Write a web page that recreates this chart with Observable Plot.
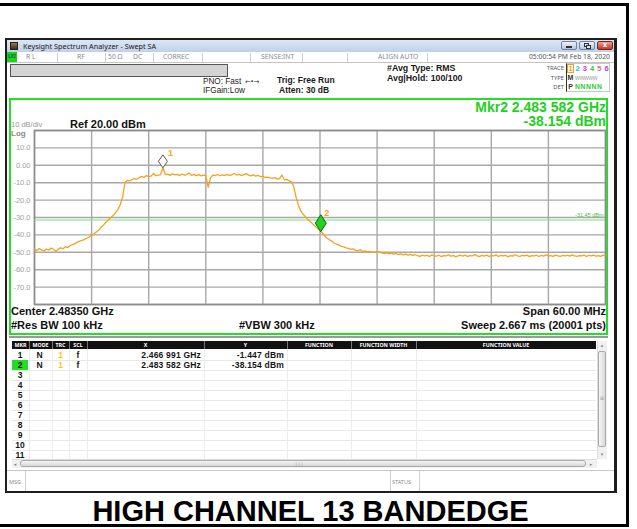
<!DOCTYPE html>
<html><head><meta charset="utf-8">
<script src="https://cdn.jsdelivr.net/npm/d3@7"></script>
<script src="https://cdn.jsdelivr.net/npm/@observablehq/plot@0.6"></script>
<style>
html,body{margin:0;padding:0;background:#fff;}
#root{position:relative;width:637px;height:529px;overflow:hidden;background:#fff;}
</style></head><body><div id="root"></div>
<script>
// ================= DATA =================
const centerGHz = 2.4835;
const spanMHz = 60;
const refLevelDbm = 20;
const displayLineDbm = -31.45;
// trace levels (dBm) at equal steps across the span
const traceLevels = [
 -48.3, -48.9, -47.9, -48.6, -49.2, -48.1, -48.7, -47.6, -48.4, -49.5,
 -48.2, -47.4, -47.9, -46.8, -47.3, -46.1, -45.6, -45.0, -44.2, -43.6,
 -43.2, -42.6, -41.9, -41.2, -40.1, -39.4, -38.3, -37.2, -35.6, -34.3,
 -32.8, -31.4, -30.2, -28.9, -27.4, -25.6, -22.8, -18.5, -10.2, -8.6,
 -8.9, -8.2, -7.6, -8.0, -7.1, -6.4, -7.0, -5.9, -6.5, -6.2,
 -4.6, -6.0, -5.7, -5.3, -1.45, -5.4, -5.1, -5.8, -4.9, -5.5,
 -5.2, -5.9, -5.0, -5.6, -5.3, -4.4, -5.8, -5.2, -5.9, -5.4,
 -6.1, -5.6, -6.0, -12.6, -7.2, -5.6, -5.9, -5.3, -6.0, -5.5,
 -5.8, -5.2, -5.9, -5.4, -4.7, -5.6, -5.2, -5.8, -5.3, -4.8,
 -5.7, -6.1, -5.5, -6.2, -5.8, -6.6, -6.3, -7.0, -6.8, -7.2,
 -7.5, -7.1, -7.9, -7.6, -5.6, -8.3, -8.1, -8.8, -9.4, -12.5,
 -18.6, -23.2, -26.4, -28.3, -29.7, -31.2, -32.4, -33.8, -35.1, -36.4,
 -37.7, -38.9, -40.6, -41.8, -42.9, -43.6, -44.8, -45.3, -45.9, -46.6,
 -46.9, -47.5, -47.8, -48.3, -48.0, -48.9, -49.1, -48.6, -49.5, -49.2,
 -49.8, -49.4, -50.1, -49.7, -50.2, -49.6, -50.4, -50.8, -50.3, -50.9,
 -50.5, -51.1, -50.7, -51.3, -50.9, -51.5, -51.0, -51.6, -51.2, -51.8,
 -51.4,
 -51.9, -52.3, -51.6, -52.1, -51.8, -52.4, -51.5, -52.0, -52.2, -51.7,
 -52.5, -51.9, -52.1, -51.4, -52.3, -51.8, -52.6, -52.0, -51.7, -52.2,
 -51.6, -52.4, -51.9, -52.1, -51.3, -52.0, -52.5, -51.8, -52.2, -51.6,
 -52.3, -51.9, -52.0, -51.5, -52.4, -51.8, -52.1, -51.7, -52.6, -51.9,
 -52.2, -51.4, -52.0, -52.3, -51.8, -52.1, -51.6, -52.5, -51.9, -52.0,
 -51.7, -52.4, -51.8, -52.2, -51.5, -52.1, -51.9, -52.3, -51.6, -52.0,
 -52.4, -51.8, -52.1, -51.7, -52.2, -51.5, -52.0, -52.3, -51.9, -52.1,
 -51.6, -52.4, -51.8, -52.0, -51.7, -52.2, -51.9, -52.3, -51.6, -52.0
];
const markerIds = [1, 2];
const markerFreqGHz = [2.466991, 2.483582];
const markerLevelDbm = [-1.447, -38.154];
const yTickValues = [10, 0, -10, -20, -30, -40, -50, -60, -70];
const yTickLabels = ["10.0", "0.00", "-10.0", "-20.0", "-30.0", "-40.0", "-50.0", "-60.0", "-70.0"];
const yGridDbm = [20, 10, 0, -10, -20, -30, -40, -50, -60, -70, -80];
const xGridGHz = [2.4535, 2.4595, 2.4655, 2.4715, 2.4775, 2.4835, 2.4895, 2.4955, 2.5015, 2.5075, 2.5135];
const tableRowIds = ["1","2","3","4","5","6","7","8","9","10","11"];
const tableHeaders = ["MKR","MODE","TRC","SCL","X","Y","FUNCTION","FUNCTION WIDTH","FUNCTION VALUE"];
const traceNums = ["1","2","3","4","5","6"];
const traceColors = ["#f0a020","#22c6e6","#e030e0","#33c433","#f06a6a","#b040e0"];

// ================= DERIVED =================
const startGHz = centerGHz - spanMHz / 2000;
const stopGHz = centerGHz + spanMHz / 2000;
const stepGHz = (stopGHz - startGHz) / (traceLevels.length - 1);
const trace = traceLevels.map((v, i) => ({f: startGHz + i * stepGHz, db: v}));
const markers = markerIds.map((id, i) => ({id, f: markerFreqGHz[i], db: markerLevelDbm[i]}));
const fmtFreq = f => { const s = f.toFixed(6); return s.slice(0, 5) + " " + s.slice(5) + " GHz"; };
const fmtDb = d => d.toFixed(3) + " dBm";
const yLabelOf = new Map(yTickValues.map((v, i) => [v, yTickLabels[i]]));

// ================= UI helpers =================
const R = document.getElementById("root");
const SANS = "'Liberation Sans', Arial, sans-serif";
const UI = "'Noto Sans', 'DejaVu Sans', sans-serif";
function box(x, y, w, h, css = "") {
  const d = document.createElement("div");
  d.style.cssText = `position:absolute;left:${x}px;top:${y}px;width:${w}px;height:${h}px;box-sizing:border-box;${css}`;
  R.appendChild(d); return d;
}
function txt(s, x, y, size, o = {}) {
  const {weight = 700, color = "#000", align = "left", family = SANS, ls = 0} = o;
  const d = document.createElement("div");
  const pos = align === "right" ? `right:${637 - x}px;` : align === "center" ? `left:${x}px;transform:translateX(-50%);` : `left:${x}px;`;
  d.style.cssText = `position:absolute;${pos}top:${y - size * 0.6}px;font:${weight} ${size}px/${size * 1.2}px ${family};color:${color};white-space:nowrap;letter-spacing:${ls}px;`;
  d.textContent = s; R.appendChild(d); return d;
}

// outer frame
box(0, 3, 629, 3, "background:#000");
box(626, 3, 3, 524, "background:#000");
box(0, 524, 629, 3, "background:#000");

// window
box(5, 38, 612, 455, "background:#fff;border:2px solid #1e1e1e;border-right-width:3px");
box(7, 40, 607, 12, "background:linear-gradient(#dce7f5,#bfd1e8)");
box(10, 42, 8, 8, "background:linear-gradient(#9a7a44,#3e2e18);border:1px solid #222");
txt("Keysight Spectrum Analyzer - Swept SA", 23, 46.3, 7.3, {weight: 400, color: "#1a1a1a", family: UI});
box(561, 41, 16, 9, "background:linear-gradient(#eef3fa,#b4c6df);border:1px solid #6f83a0;border-radius:2px");
box(566, 46, 6, 2, "background:#333");
box(579, 41, 16, 9, "background:linear-gradient(#eef3fa,#b4c6df);border:1px solid #6f83a0;border-radius:2px");
box(584, 43, 5, 4, "border:1px solid #333");
box(586, 44.5, 5, 4, "border:1px solid #333;background:#dde6f2");
box(597, 41, 16, 9, "background:linear-gradient(#f0a090,#c03828);border:1px solid #7a2418;border-radius:2px");
txt("x", 605, 45.5, 7, {align: "center", color: "#fff", family: UI});

// status row
box(7, 52, 607, 11, "background:#fff;border-bottom:1px solid #c4c4c4");
box(7, 52, 10, 10, "background:#1fd01f");
txt("LXI", 12, 57, 4.5, {align: "center", color: "#063", family: UI});
[57, 105, 153, 202, 250, 302, 347, 427].forEach(x => box(x, 53, 1, 9, "background:#cfcfcf"));
const sc = {weight: 400, color: "#8a8a8a", family: UI};
txt("R L", 26, 57.5, 6.8, sc);
txt("RF", 77, 57.5, 6.8, sc);
txt("50 Ω", 108, 57.5, 6.8, sc);
txt("DC", 133, 57.5, 6.8, sc);
txt("CORREC", 163, 57.5, 6.8, sc);
txt("SENSE:INT", 261, 57.5, 6.8, sc);
txt("ALIGN AUTO", 378, 57.5, 6.8, sc);
txt("05:00:54 PM Feb 18, 2020", 610, 57.5, 6.8, {...sc, align: "right", color: "#555"});

// gray bar + info
box(10, 64, 218, 13, "background:#d4d4d4;border:1px solid #555");
txt("PNO: Fast", 203, 82, 8.2, {weight: 400, color: "#222"});
txt("IFGain:Low", 203, 91, 8.2, {weight: 400, color: "#222"});
txt("←•→", 245, 82, 7, {weight: 400, color: "#333", family: UI});
txt("Trig: Free Run", 277, 80, 8.5, {color: "#1a1a1a"});
txt("Atten: 30 dB", 279, 90.5, 8.5, {color: "#1a1a1a"});
txt("#Avg Type: RMS", 387, 68, 8.8, {color: "#1a1a1a"});
txt("Avg|Hold: 100/100", 387, 78.5, 8.8, {color: "#1a1a1a"});

// trace box
txt("TRACE", 564, 68, 5.8, {align: "right", weight: 400, color: "#555", family: UI});
txt("TYPE", 564, 78, 5.8, {align: "right", weight: 400, color: "#555", family: UI});
txt("DET", 564, 87.5, 5.8, {align: "right", weight: 400, color: "#555", family: UI});
box(566, 63, 44, 29, "border:1px solid #c8c8c8;border-left:1.5px solid #333");
box(567, 64, 7, 9, "border:1px solid #f0a020");
traceNums.forEach((n, i) => txt(n, 570.5 + i * 7.2, 68.5, 7.5, {align: "center", color: traceColors[i]}));
txt("M", 570.5, 78, 7, {align: "center", color: "#333"});
txt("WWWWW", 575, 78, 5.2, {weight: 400, color: "#9a9a9a", family: UI, ls: -0.4});
txt("P", 570.5, 87.5, 7, {align: "center", color: "#333"});
txt("NNNNN", 575, 87.5, 6.8, {color: "#2ccc2c", ls: 0.6});

// green panel
box(9, 98, 599, 237, "border:2px solid #22e022");
txt("Mkr" + markers[1].id + " " + fmtFreq(markers[1].f), 606, 107, 14, {align: "right", color: "#1fcf1f"});
txt(fmtDb(markers[1].db), 606, 121.5, 14, {align: "right", color: "#1fcf1f"});
txt("10 dB/div", 11, 124, 7.5, {weight: 400, color: "#9a9a9a"});
txt("Log", 11, 133.6, 8, {color: "#8a8a8a"});
txt("Ref 20.00 dBm", 70, 124.5, 11, {color: "#111"});

// ================= PLOT =================
const tallDiamond = {draw(ctx) { ctx.moveTo(0, -6.5); ctx.lineTo(4.5, 0); ctx.lineTo(0, 6.5); ctx.lineTo(-4.5, 0); ctx.closePath(); }};
const bigDiamond = {draw(ctx) { ctx.moveTo(0, -8.5); ctx.lineTo(5.5, 0); ctx.lineTo(0, 8.5); ctx.lineTo(-5.5, 0); ctx.closePath(); }};
const chart = Plot.plot({
  width: 610, height: 240,
  marginLeft: 34, marginRight: 5, marginTop: 32, marginBottom: 34,
  x: {domain: [startGHz, stopGHz], axis: null},
  y: {domain: [refLevelDbm - 100, refLevelDbm], axis: null},
  style: {background: "transparent", overflow: "visible", fontFamily: SANS},
  marks: [
    Plot.gridX(xGridGHz, {stroke: "#a8a8a8", strokeOpacity: 1, strokeWidth: 1.4}),
    Plot.gridY(yGridDbm, {stroke: "#a8a8a8", strokeOpacity: 1, strokeWidth: 1.4}),
    Plot.frame({stroke: "#8c8c8c", strokeWidth: 1.6}),
    Plot.axisY(yTickValues, {tickSize: 0, tickPadding: 4, tickFormat: d => yLabelOf.get(d), fill: "#a0a0a0", fontSize: 7.5, label: null}),
    Plot.ruleY([displayLineDbm], {stroke: "#7be07b", strokeWidth: 1.2}),
    Plot.text([displayLineDbm], {x: stopGHz, y: d => d, text: d => d.toFixed(2) + " dBm", textAnchor: "end", dx: -2, dy: -5, fontSize: 5.5, fill: "#3fbf3f"}),
    Plot.line(trace, {x: "f", y: "db", stroke: "#f5a21e", strokeWidth: 1.3}),
    Plot.dot(markers, {filter: d => d.id === 1, x: "f", y: "db", symbol: tallDiamond, dy: -6.5, fill: "#fff", stroke: "#555", strokeWidth: 1}),
    Plot.dot(markers, {filter: d => d.id === 2, x: "f", y: "db", symbol: bigDiamond, dy: -8.5, fill: "#22d022", stroke: "#0d660d", strokeWidth: 1}),
    Plot.text(markers, {filter: d => d.id === 1, x: "f", y: "db", text: d => String(d.id), dx: 7.5, dy: -15, fontSize: 9, fontWeight: "bold", fill: "#f5a21e"}),
    Plot.text(markers, {filter: d => d.id === 2, x: "f", y: "db", text: d => String(d.id), dx: 6, dy: -19, fontSize: 9, fontWeight: "bold", fill: "#f5a21e"})
  ]
});
const holder = document.createElement("div");
holder.style.cssText = "position:absolute;left:0;top:98px;width:610px;height:240px;";
holder.appendChild(chart);
R.appendChild(holder);

txt("Center " + centerGHz.toFixed(5) + " GHz", 11, 311.7, 11, {color: "#111"});
txt("#Res BW 100 kHz", 11, 325.5, 11, {color: "#111"});
txt("#VBW 300 kHz", 239, 325.5, 11, {color: "#111"});
txt("Span " + spanMHz.toFixed(2) + " MHz", 606, 311.7, 11, {align: "right", color: "#111"});
txt("Sweep  2.667 ms (" + "20001" + " pts)", 606, 325.5, 11, {align: "right", color: "#111"});

// ================= MARKER TABLE =================
box(9, 336, 599, 2, "background:#9a9a9a");
const edges = [12, 29, 52, 69, 87, 204, 287, 351, 416, 596];
box(12, 341, 584, 8, "background:#111");
tableHeaders.forEach((h, i) => {
  txt(h, (edges[i] + edges[i + 1]) / 2, 345, 5.3, {align: "center", color: "#fff", family: UI});
  if (i > 0) box(edges[i], 341, 1, 8, "background:#777");
});
for (let k = 0; k < tableRowIds.length; k++) box(12, 359.5 + k * 10, 584, 1, "background:#e8e8e8");
edges.slice(1, -1).forEach(x => box(x, 349, 1, 110, "background:#ececec"));
box(12, 360, 16, 10, "background:#22dd22");
tableRowIds.forEach((id, k) => txt(id, 20, 355 + k * 10, 8.5, {align: "center", color: "#151515"}));
markers.forEach((m, k) => {
  const y = 355 + k * 10;
  txt("N", 39.5, y, 8.5, {align: "center", color: "#151515"});
  txt(String(1), 60.5, y, 8.5, {align: "center", color: "#f0d000"});
  txt("f", 78, y, 8.5, {align: "center", color: "#151515"});
  txt(fmtFreq(m.f), 201, y, 8.5, {align: "right", color: "#151515", ls: 0.2});
  txt(fmtDb(m.db), 284, y, 8.5, {align: "right", color: "#151515", ls: 0.2});
});
// scrollbars
box(597, 341, 10, 118, "background:#f0f0f0;border-left:1px solid #ddd");
box(598, 351, 8, 96, "background:linear-gradient(90deg,#f6f6f6,#d9d9d9);border:1px solid #aaa;border-radius:2px");
txt("≡", 602, 399, 6, {align: "center", weight: 400, color: "#999", family: UI});
txt("▴", 602, 345, 5, {align: "center", weight: 400, color: "#888", family: UI});
txt("▾", 602, 454, 5, {align: "center", weight: 400, color: "#888", family: UI});
box(12, 459, 585, 9, "background:#f0f0f0;border-top:1px solid #ddd");
box(20, 460, 566, 7, "background:linear-gradient(#f6f6f6,#d6d6d6);border:1px solid #aaa;border-radius:3px");
txt("|||", 299, 463.5, 5, {align: "center", weight: 400, color: "#999", family: UI});
txt("◂", 15, 463.5, 5, {align: "center", weight: 400, color: "#888", family: UI});
txt("▸", 591, 463.5, 5, {align: "center", weight: 400, color: "#888", family: UI});

// status line
box(7, 470, 607, 21, "border-top:1px solid #c8c8c8");
box(25, 471, 1, 20, "background:#d0d0d0");
box(390, 471, 1, 20, "background:#d0d0d0");
box(419, 471, 1, 20, "background:#d0d0d0");
txt("MSG", 9, 482.5, 5.5, {weight: 400, color: "#888", family: UI});
txt("STATUS", 392, 482.5, 5.5, {weight: 400, color: "#888", family: UI});

// caption
txt("HIGH CHANNEL 13 BANDEDGE", 310.5, 511.5, 29, {align: "center", color: "#000"});
</script>
</body></html>
